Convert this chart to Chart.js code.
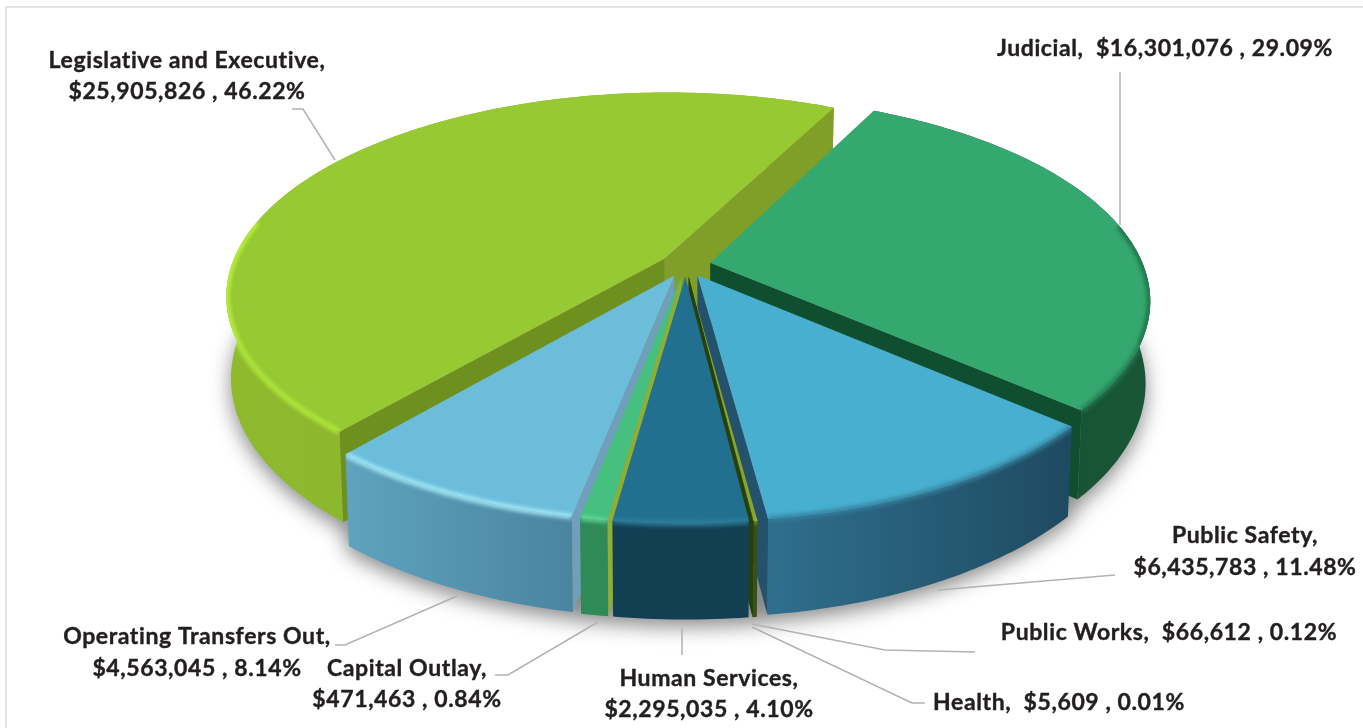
<!DOCTYPE html>
<html>
<head>
<meta charset="utf-8">
<style>
  html, body { margin: 0; padding: 0; background: #fff; overflow: hidden; }
  #frame { position: absolute; left: 5px; top: 6px; width: 1500px; height: 1000px; border: 2px solid #e2e2e2; }
  canvas { position: absolute; left: 0; top: 0; filter: blur(0.4px); }
</style>
<script src="https://cdn.jsdelivr.net/npm/chart.js@4"></script>
</head>
<body>
<div id="frame"></div>
<canvas id="chartCanvas" width="1363" height="728"></canvas>
<script>
const categories = ["Judicial", "Public Safety", "Public Works", "Health", "Human Services", "Capital Outlay", "Operating Transfers Out", "Legislative and Executive"]
const amounts = [16301076, 6435783, 66612, 5609, 2295035, 471463, 4563045, 25905826]
const percents = ["29.09", "11.48", "0.12", "0.01", "4.10", "0.84", "8.14", "46.22"]

// colours per slice: top face, rim light, wall left, wall right, cut faces
const sliceColors = [
  { top: "#35a86f", rim: "#23794f", wallL: "#15502f", wallR: "#185636", cutA: "#0f4f30", cutB: "#0f4f30" },
  { top: "#48afd0", rim: "#35819f", wallL: "#2f6f8e", wallR: "#1e4a60", cutA: "#24526c", cutB: "#24526c" },
  { top: "#8aa52b", rim: "#a0bc35", wallL: "#3a4f12", wallR: "#3a4f12", cutA: "#24400f", cutB: "#24400f" },
  { top: "#5c7a1c", rim: "#5c7a1c", wallL: "#2e4410", wallR: "#2e4410", cutA: "#24400f", cutB: "#24400f" },
  { top: "#22708f", rim: "#2f7f9c", wallL: "#123f52", wallR: "#123f52", cutA: "#1c5a75", cutB: "#1c5a75" },
  { top: "#46c07f", rim: "#62d699", wallL: "#2f8a57", wallR: "#2f8a57", cutA: "#8fae32", cutB: "#8fae32" },
  { top: "#6bbdda", rim: "#a8ecfa", wallL: "#5fa3bf", wallR: "#4a84a0", cutA: "#6f9fbb", cutB: "#6f9fbb" },
  { top: "#96c932", rim: "#b4ec3c", wallL: "#8fba2e", wallR: "#85ab29", cutA: "#6e901f", cutB: "#7f9f28" }
]

// painted back to front
const drawOrder = [7, 0, 6, 1, 5, 2, 3, 4]

// label placement: center x, line baselines, leader polyline
const labelPlaces = [
  { x: 1165, y: [56], lead: [[1120, 72], [1120, 225]] },
  { x: 1245, y: [543, 575], lead: [[1115, 575], [938, 590]] },
  { x: 1169, y: [640], lead: [[975, 652], [885, 650], [752, 624]] },
  { x: 1059, y: [710], lead: [[925, 703], [912, 703], [752, 627]] },
  { x: 709, y: [686, 717], lead: [[682, 628], [682, 655]] },
  { x: 407, y: [676, 707], lead: [[495, 675], [508, 675], [598, 622]] },
  { x: 197, y: [644, 676], lead: [[335, 645], [345, 645], [457, 596]] },
  { x: 187, y: [68, 99], lead: [[292, 109], [303, 109], [335, 160]] }
]

const twoLine = [false, true, false, false, true, true, true, true]

// projection of the flat pie to the tilted view
const xScale = 433, yScale = 198, persp = 0.179, wallDepth = 80, baseShrink = 0.99

function project(arc, px, py, low) {
  const r = arc.outerRadius
  const u = px / r, v = py / r
  const s = 1 / (1 - persp * v)
  let x = u * xScale * s
  let y = v * yScale * s
  if (low) {
    x *= baseShrink
    y = y * baseShrink + wallDepth * s
  }
  return [arc.x + x, arc.y + y]
}

function rimPoints(arc, a0, a1, low) {
  const mid = (arc.startAngle + arc.endAngle) / 2
  const off = arc.options.offset
  const pts = []
  const n = Math.max(2, Math.ceil((a1 - a0) * 60))
  for (let i = 0; i <= n; i++) {
    const a = a0 + (a1 - a0) * i / n
    pts.push(project(arc, Math.cos(a) * arc.outerRadius + Math.cos(mid) * off,
      Math.sin(a) * arc.outerRadius + Math.sin(mid) * off, low))
  }
  return pts
}

function apexPoint(arc, low) {
  const mid = (arc.startAngle + arc.endAngle) / 2
  const off = arc.options.offset
  return project(arc, Math.cos(mid) * off, Math.sin(mid) * off, low)
}

function tracePoly(ctx, pts) {
  ctx.beginPath()
  pts.forEach((p, i) => i ? ctx.lineTo(p[0], p[1]) : ctx.moveTo(p[0], p[1]))
}

function fillPoly(ctx, pts, fill) {
  tracePoly(ctx, pts)
  ctx.closePath()
  ctx.fillStyle = fill
  ctx.fill()
}

function drawGroundShadow(ctx, arcs) {
  const pts = []
  arcs.forEach(arc => rimPoints(arc, arc.startAngle, arc.endAngle, true).forEach(p => pts.push([p[0], p[1] + 7])))
  ctx.save()
  ctx.filter = "blur(10px)"
  fillPoly(ctx, pts, "rgba(60,60,60,0.6)")
  ctx.restore()
}

// soft bevel, only on the part of the rim facing the viewer, kept inside the slice
function drawBevel(ctx, arc, c, topFace, wallFace) {
  const a0 = arc.startAngle, a1 = arc.endAngle
  const pts = rimPoints(arc, a0, a1, false)
  const front = pts.filter((p, i) => Math.sin(a0 + (a1 - a0) * i / (pts.length - 1)) > -0.2)
  if (front.length < 2) return
  ;[topFace, wallFace].forEach(face => {
    ctx.save()
    tracePoly(ctx, face)
    ctx.closePath()
    ctx.clip()
    ctx.filter = "blur(2px)"
    ctx.strokeStyle = c.rim
    ctx.lineWidth = 5
    tracePoly(ctx, front)
    ctx.stroke()
    ctx.restore()
  })
}

function drawSlice(ctx, arc, c) {
  const topRim = rimPoints(arc, arc.startAngle, arc.endAngle, false)
  const lowRim = rimPoints(arc, arc.startAngle, arc.endAngle, true)
  const apexTop = apexPoint(arc, false)
  const apexLow = apexPoint(arc, true)
  const last = topRim.length - 1
  const topFace = [apexTop].concat(topRim)
  const wallFace = topRim.concat(lowRim.slice().reverse())

  // outer wall
  const xs = topRim.map(p => p[0])
  const grad = ctx.createLinearGradient(Math.min(...xs), 0, Math.max(...xs), 0)
  grad.addColorStop(0, c.wallL)
  grad.addColorStop(1, c.wallR)
  fillPoly(ctx, wallFace, grad)

  // cut faces, only the ones turned to the viewer
  if (topRim[0][0] < apexTop[0]) fillPoly(ctx, [apexTop, topRim[0], lowRim[0], apexLow], c.cutA)
  if (topRim[last][0] > apexTop[0]) fillPoly(ctx, [apexTop, topRim[last], lowRim[last], apexLow], c.cutB)

  fillPoly(ctx, topFace, c.top)
  drawBevel(ctx, arc, c, topFace, wallFace)
}

function labelText(i) {
  const money = "$" + amounts[i].toLocaleString("en-US")
  if (twoLine[i]) return [categories[i] + ",", money + " , " + percents[i] + "%"]
  return [categories[i] + ",  " + money + " , " + percents[i] + "%"]
}

const pie3d = {
  id: "pie3d",
  beforeDatasetDraw(chart) {
    const ctx = chart.ctx
    const arcs = chart.getDatasetMeta(0).data
    drawGroundShadow(ctx, arcs)
    drawOrder.forEach(i => drawSlice(ctx, arcs[i], sliceColors[i]))
    return false
  },
  afterDraw(chart) {
    const ctx = chart.ctx
    ctx.save()
    ctx.strokeStyle = "#b2b2b2"
    ctx.lineWidth = 1.5
    labelPlaces.forEach(p => {
      tracePoly(ctx, p.lead)
      ctx.stroke()
    })
    ctx.fillStyle = "#231f20"
    ctx.strokeStyle = "#231f20"
    ctx.lineWidth = 0.4
    ctx.font = "700 23px Lato"
    ctx.letterSpacing = "0.6px"
    ctx.textAlign = "center"
    ctx.textBaseline = "alphabetic"
    labelPlaces.forEach((p, i) => {
      labelText(i).forEach((line, k) => {
        ctx.fillText(line, p.x, p.y[k])
        ctx.strokeText(line, p.x, p.y[k])
      })
    })
    ctx.restore()
  }
}

new Chart(document.getElementById("chartCanvas"), {
  type: "pie",
  data: {
    labels: categories,
    datasets: [{
      data: amounts,
      backgroundColor: sliceColors.map(c => c.top),
      borderWidth: 0,
      offset: 15
    }]
  },
  options: {
    responsive: false,
    animation: false,
    rotation: 26.6,
    layout: { padding: { left: 8, right: 0, top: 0, bottom: 198 } },
    plugins: { legend: { display: false }, tooltip: { enabled: false } }
  },
  plugins: [pie3d]
})
</script>
</body>
</html>
